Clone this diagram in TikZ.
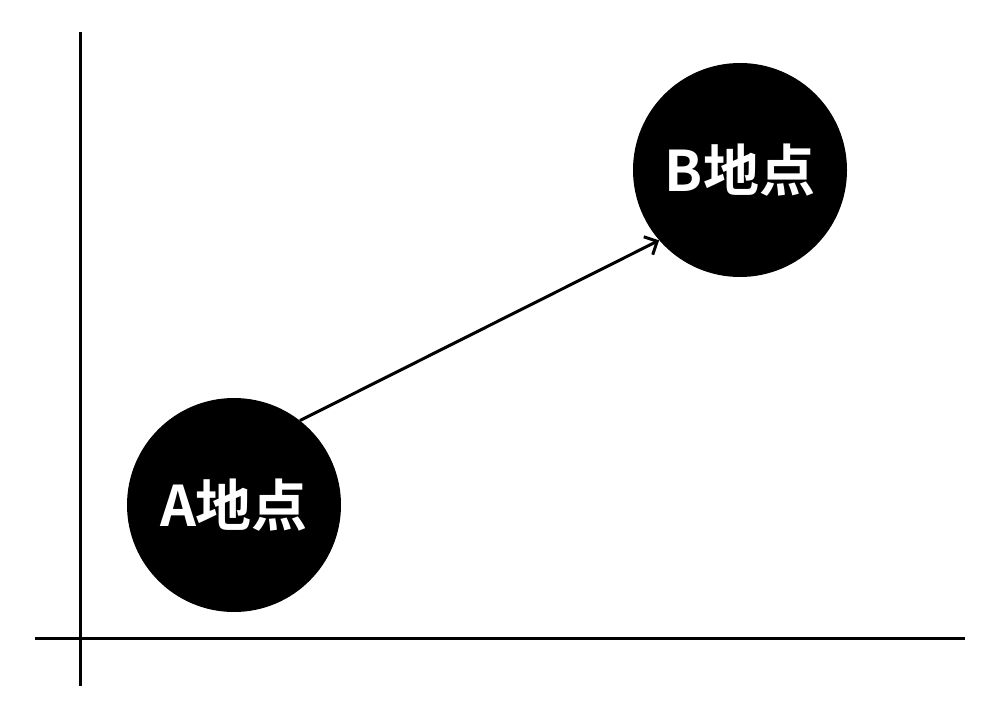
\documentclass[tikz,border=0pt]{standalone}
\usepackage{fontspec}
\usetikzlibrary{arrows.meta}
\newfontfamily\cjk{Noto Sans CJK JP}[BoldFont={* Bold}]
\begin{document}
\begin{tikzpicture}[x=1pt,y=-1pt,
  axis/.style={line width=3pt},
  spot/.style={circle,fill=black,minimum size=214pt,inner sep=0pt,text=white,font=\cjk\bfseries\fontsize{56}{60}\selectfont}]
\useasboundingbox (0,0) rectangle (1008,711);
\draw[axis] (80,32) -- (80,686);
\draw[axis] (35,638) -- (965,638);
\node[spot] (A) at (234,505) {A地点};
\node[spot] (B) at (740,170) {B地点};
\draw[line width=3pt,-{Straight Barb[length=10pt]}] (A.52) -- (B.221);
\end{tikzpicture}
\end{document}
